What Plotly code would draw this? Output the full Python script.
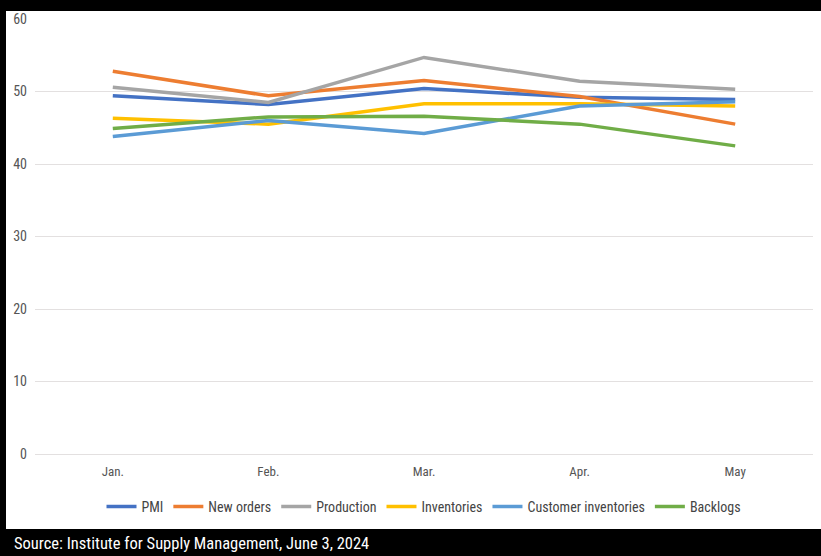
import plotly.graph_objects as go

months = ["Jan.", "Feb.", "Mar.", "Apr.", "May"]
pmi = [49.4, 48.2, 50.4, 49.2, 48.9]
new_orders = [52.8, 49.4, 51.5, 49.3, 45.5]
production = [50.6, 48.5, 54.7, 51.4, 50.3]
inventories = [46.3, 45.5, 48.3, 48.3, 48.0]
customer_inventories = [43.8, 46.0, 44.2, 48.0, 48.6]
backlogs = [44.9, 46.5, 46.6, 45.5, 42.5]

series = [
    ("PMI", pmi, "#4472C4"),
    ("New orders", new_orders, "#ED7D31"),
    ("Production", production, "#A5A5A5"),
    ("Inventories", inventories, "#FFC000"),
    ("Customer inventories", customer_inventories, "#5B9BD5"),
    ("Backlogs", backlogs, "#70AD47"),
]

FONT = "Roboto Condensed, Liberation Sans Narrow, Roboto, sans-serif"

fig = go.Figure()
for name, vals, color in series:
    fig.add_trace(go.Scatter(x=months, y=vals, name=name, mode="lines",
                             line=dict(color=color, width=3.5)))

W, H = 821, 556
L, R, T, B = 35, 8, 19, 102
pw, ph = W - L - R, H - T - B

def xp(px):
    return (px - L) / pw

def yp(py):
    return (H - B - py) / ph

fig.update_layout(
    width=W, height=H,
    margin=dict(l=L, r=R, t=T, b=B),
    paper_bgcolor="white", plot_bgcolor="white",
    font=dict(family=FONT, size=12, color="#555555"),
    xaxis=dict(type="category", range=[-0.5, 4.5], showgrid=False,
               showline=False, ticks="", ticklabelstandoff=8,
               tickfont=dict(size=13, color="#555555")),
    yaxis=dict(range=[0, 60], dtick=10, showgrid=True, gridcolor="#e3e0e0",
               gridwidth=1, zeroline=True, zerolinecolor="#e3e0e0", zerolinewidth=1,
               showline=False, ticks="", ticklabelstandoff=7,
               tickfont=dict(size=14, color="#555555")),
    legend=dict(orientation="h", x=0.5, xanchor="center", y=yp(507), yanchor="middle",
                font=dict(size=14, color="#444444"), itemwidth=30),
    showlegend=True,
    shapes=[
        dict(type="rect", xref="paper", yref="paper", x0=xp(-5), x1=xp(W + 5),
             y0=yp(11), y1=yp(-5), fillcolor="black", line=dict(width=0), layer="above"),
        dict(type="rect", xref="paper", yref="paper", x0=xp(-5), x1=xp(6),
             y0=yp(H + 5), y1=yp(-5), fillcolor="black", line=dict(width=0), layer="above"),
        dict(type="rect", xref="paper", yref="paper", x0=xp(-5), x1=xp(W + 5),
             y0=yp(H + 5), y1=yp(529), fillcolor="black", line=dict(width=0), layer="above"),
    ],
    annotations=[
        dict(text="Source: Institute for Supply Management, June 3, 2024",
             xref="paper", yref="paper", x=xp(12), y=yp(543), xanchor="left",
             yanchor="middle", showarrow=False,
             font=dict(family=FONT, size=16.5, color="white")),
    ],
)

fig.write_html("out.html")
